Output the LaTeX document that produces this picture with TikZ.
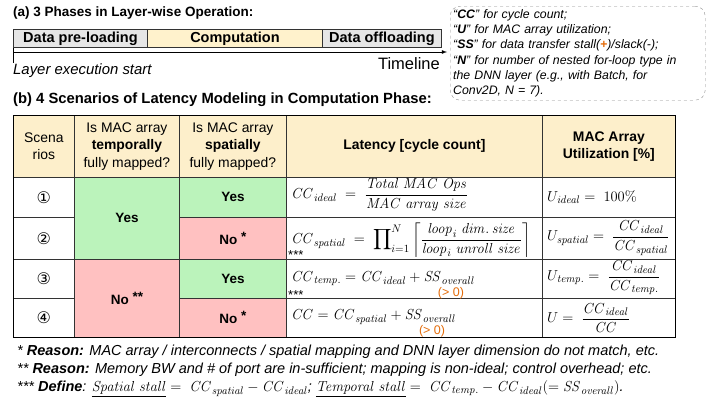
\RequirePackage{fix-cm}
\documentclass[tikz,border=0pt]{standalone}
\usepackage{amsmath}
\usepackage[no-math]{fontspec}
\setmainfont{Liberation Sans}
\newfontfamily\circfont{DejaVu Sans}
\usetikzlibrary{positioning}
\DeclareMathSizes{14.5}{14.5}{11}{8.5}

\definecolor{headfill}{HTML}{FDEFCB}
\definecolor{compfill}{HTML}{FFF2CC}
\definecolor{yesfill}{HTML}{BBF3BB}
\definecolor{nofill}{HTML}{FFC1C1}
\definecolor{phasegray}{HTML}{E6E6E6}
\definecolor{notegray}{HTML}{8C8C8C}
\definecolor{stallorange}{HTML}{E46C0A}

\newcommand{\mvar}[1]{\mathit{#1}}

\begin{document}
\begin{tikzpicture}[x=1pt,y=-1pt]
\tikzstyle{title}=[anchor=west, inner sep=0pt, font=\fontsize{13.5}{15}\selectfont\bfseries]
\tikzstyle{phase}=[rectangle, draw=black!80, line width=0.9pt, anchor=north west, inner sep=0pt, minimum height=18pt, font=\fontsize{14.5}{15}\selectfont\bfseries]
\tikzstyle{connect}=[-latex, thick]
\tikzstyle{notebox}=[rectangle, rounded corners=10pt, dashed, draw=notegray, anchor=north west, inner xsep=3pt, inner ysep=1pt, text width=249pt, minimum height=94pt, align=left, font=\fontsize{12.3}{15.3}\selectfont\itshape]
\tikzstyle{cell}=[rectangle, draw=black!80, line width=0.8pt, anchor=north west, inner sep=0pt, align=center, font=\fontsize{13.9}{17.5}\selectfont]
\tikzstyle{answer}=[cell, font=\fontsize{13.5}{16}\selectfont\bfseries]
\tikzstyle{formula}=[anchor=west, inner sep=0pt, font=\fontsize{14.5}{16}\selectfont]
\tikzstyle{stars}=[anchor=west, inner sep=0pt, font=\fontsize{13}{13}\selectfont]
\tikzstyle{positive}=[inner sep=0pt, text=stallorange, font=\fontsize{12.5}{13}\selectfont]
\tikzstyle{footnote}=[anchor=west, inner sep=0pt, font=\fontsize{14.5}{16}\selectfont\itshape]

\useasboundingbox (0,0) rectangle (707,410);

\node[title] at (13,13) (titlea) {(a) 3 Phases in Layer-wise Operation:};
\node[phase, fill=phasegray, minimum width=134pt] at (13,29) (preload) {Data pre-loading};
\node[phase, fill=compfill, minimum width=175pt] at (147,29) (comp) {Computation};
\node[phase, fill=phasegray, minimum width=119pt] at (322,29) (offload) {Data offloading};
\coordinate (tstart) at (13,52);
\coordinate (tend) at (447,52);
\coordinate (tick) at (13,63);
\path (tstart) edge [connect] (tend);
\draw[thick] (preload.south west) -- (tick);
\node[anchor=east, inner sep=0pt, font=\fontsize{16.5}{17}\selectfont] at (440,64) (timeline) {Timeline};
\node[anchor=west, inner sep=0pt, font=\fontsize{14.9}{16}\selectfont\itshape] at (13,71) (layerstart) {Layer execution start};

\node[notebox] at (450,6) (notes) {``\textbf{CC}'' for cycle count;\\
``\textbf{U}'' for MAC array utilization;\\
``\textbf{SS}'' for data transfer stall(\textcolor{stallorange}{\textbf{+}})/slack(-);\\
``\textbf{N}'' for number of nested for-loop type in\\
the DNN layer (e.g., with Batch, for\\
Conv2D, N = 7).};

\node[title, font=\fontsize{14.8}{16}\selectfont\bfseries] at (13,100) (titleb) {(b) 4 Scenarios of Latency Modeling in Computation Phase:};

\node[cell, fill=headfill, minimum width=61pt, minimum height=62pt] at (13,115) (hscen) {Scena\\rios};
\node[cell, fill=headfill, minimum width=105pt, minimum height=62pt] at (74,115) (htemp) {Is MAC array\\\textbf{temporally}\\fully mapped?};
\node[cell, fill=headfill, minimum width=107pt, minimum height=62pt] at (179,115) (hspat) {Is MAC array\\\textbf{spatially}\\fully mapped?};
\node[cell, fill=headfill, minimum width=256pt, minimum height=62pt] at (286,115) (hlat) {\textbf{Latency [cycle count]}};
\node[cell, fill=headfill, minimum width=133pt, minimum height=62pt] at (542,115) (hutil) {\textbf{MAC Array}\\\textbf{Utilization [\%]}};

\node[cell, minimum width=61pt, minimum height=40pt, font=\fontsize{16}{16}\circfont] at (13,177) (scen1) {①};
\node[cell, minimum width=61pt, minimum height=42pt, font=\fontsize{16}{16}\circfont] at (13,217) (scen2) {②};
\node[cell, minimum width=61pt, minimum height=39pt, font=\fontsize{16}{16}\circfont] at (13,259) (scen3) {③};
\node[cell, minimum width=61pt, minimum height=39pt, font=\fontsize{16}{16}\circfont] at (13,298) (scen4) {④};

\node[answer, fill=yesfill, minimum width=105pt, minimum height=82pt] at (74,177) (tempyes) {Yes};
\node[answer, fill=nofill, minimum width=105pt, minimum height=78pt] at (74,259) (tempno) {No \raisebox{3pt}{**}};

\node[answer, fill=yesfill, minimum width=107pt, minimum height=40pt] at (179,177) (spat1) {Yes};
\node[answer, fill=nofill, minimum width=107pt, minimum height=42pt] at (179,217) (spat2) {No \raisebox{3pt}{*}};
\node[answer, fill=yesfill, minimum width=107pt, minimum height=39pt] at (179,259) (spat3) {Yes};
\node[answer, fill=nofill, minimum width=107pt, minimum height=39pt] at (179,298) (spat4) {No \raisebox{3pt}{*}};

\node[cell, minimum width=256pt, minimum height=40pt] at (286,177) (lat1) {};
\node[cell, minimum width=256pt, minimum height=42pt] at (286,217) (lat2) {};
\node[cell, minimum width=256pt, minimum height=39pt] at (286,259) (lat3) {};
\node[cell, minimum width=256pt, minimum height=39pt] at (286,298) (lat4) {};

\node[cell, minimum width=133pt, minimum height=40pt] at (542,177) (util1) {};
\node[cell, minimum width=133pt, minimum height=42pt] at (542,217) (util2) {};
\node[cell, minimum width=133pt, minimum height=39pt] at (542,259) (util3) {};
\node[cell, minimum width=133pt, minimum height=39pt] at (542,298) (util4) {};

\draw[line width=1pt] (hscen.north west) rectangle (util4.south east);

\node[formula] at (291,195) (cc1) {$\mvar{CC}_{\mvar{ideal}} \;=\; \dfrac{\mvar{Total\ MAC\ Ops}}{\mvar{MAC\ array\ size}}$};
\node[formula] at (291,240) (cc2) {$\mvar{CC}_{\mvar{spatial}} \;=\; \displaystyle\prod\nolimits_{i=1}^{N}\left\lceil\frac{\mvar{loop}_i\ \mvar{dim.\,size}}{\mvar{loop}_i\ \mvar{unroll\ size}}\right\rceil$};
\node[stars] at (288,255) (stars2) {***};
\node[formula] at (291,279) (cc3) {$\mvar{CC}_{\mvar{temp.}} = \mvar{CC}_{\mvar{ideal}} + \mvar{SS}_{\mvar{overall}}$};
\node[stars] at (288,295) (stars3) {***};
\node[positive, xshift=-24pt, yshift=-14pt] at (cc3.east) (pos3) {(> 0)};
\node[formula] at (291,317) (cc4) {$\mvar{CC} = \mvar{CC}_{\mvar{spatial}} + \mvar{SS}_{\mvar{overall}}$};
\node[positive, xshift=-24pt, yshift=-14pt] at (cc4.east) (pos4) {(> 0)};

\node[formula] at (547,197) (u1) {$U_{\mvar{ideal}} =\ 100\%$};
\node[formula] at (547,238) (u2) {$U_{\mvar{spatial}} =\ \dfrac{\mvar{CC}_{\mvar{ideal}}}{\mvar{CC}_{\mvar{spatial}}}$};
\node[formula] at (547,278) (u3) {$U_{\mvar{temp.}} =\ \dfrac{\mvar{CC}_{\mvar{ideal}}}{\mvar{CC}_{\mvar{temp.}}}$};
\node[formula] at (547,318) (u4) {$U =\ \dfrac{\mvar{CC}_{\mvar{ideal}}}{\mvar{CC}}$};

\node[footnote] at (17,352) (reason1) {* \textbf{Reason:} MAC array / interconnects / spatial mapping and DNN layer dimension do not match, etc.};
\node[footnote] at (17,370) (reason2) {** \textbf{Reason:} Memory BW and \# of port are in-sufficient; mapping is non-ideal; control overhead; etc.};
\node[footnote] at (17,389) (define) {*** \textbf{Define}: $\underline{\mvar{Spatial\ stall}} =\ \mvar{CC}_{\mvar{spatial}} - \mvar{CC}_{\mvar{ideal}}$; $\underline{\mvar{Temporal\ stall}} =\ \mvar{CC}_{\mvar{temp.}} - \mvar{CC}_{\mvar{ideal}}(= \mvar{SS}_{\mvar{overall}})$.};
\end{tikzpicture}
\end{document}
